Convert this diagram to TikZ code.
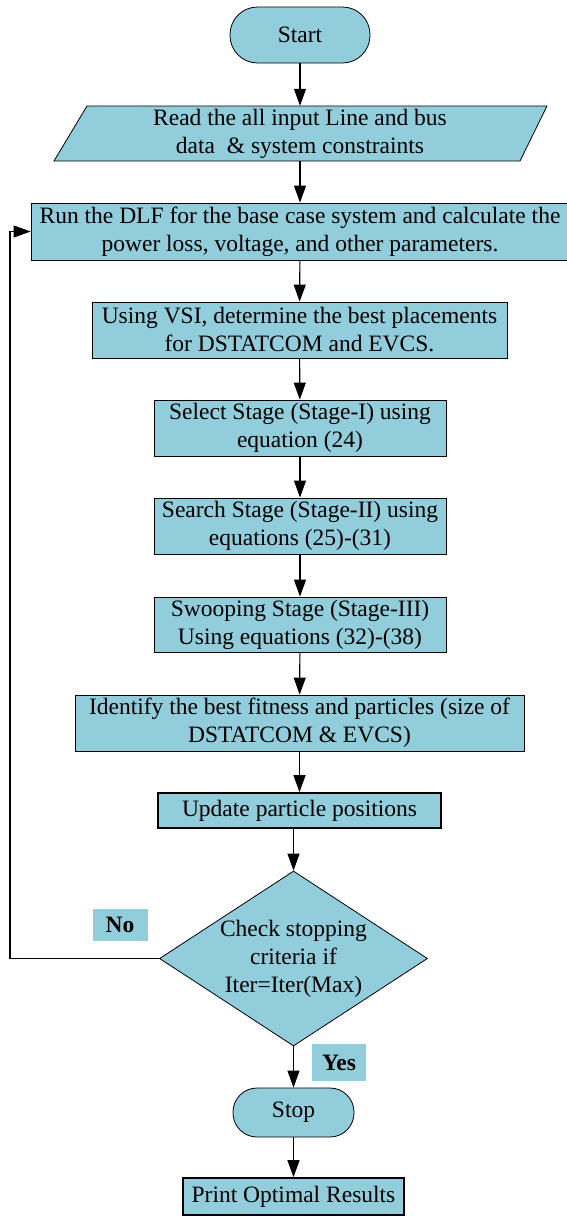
\documentclass[tikz,border=0pt]{standalone}
\usepackage{fontspec}
\setmainfont{Liberation Serif}
\usetikzlibrary{shapes.geometric,arrows.meta,backgrounds}
\definecolor{boxblue}{HTML}{92CDDC}
\begin{document}
\begin{tikzpicture}[x=1pt,y=-1pt,
  every node/.style={font=\fontsize{23.5}{28}\selectfont, align=center, inner sep=0pt},
  proc/.style={rectangle, draw=black, line width=0.8pt, fill=boxblue},
  thickproc/.style={proc, line width=1.6pt},
  term/.style={rectangle, draw=black, line width=0.8pt, fill=boxblue},
  lbl/.style={rectangle, fill=boxblue, font=\fontsize{23.5}{28}\selectfont\bfseries},
  arr/.style={-{Triangle[length=17pt,width=12pt]}, line width=1.1pt},
]
\useasboundingbox (0,0) rectangle (567,1216);

\node[term, minimum width=140, minimum height=56, rounded corners=27.5] (start) at (300,35) {Start};

\node[minimum height=55] (read) at (300,133.5) {Read the all input Line and bus\\data~~\& system constraints};
\begin{scope}[on background layer]
  \draw[proc] (87,106) -- (547,106) -- (520,161) -- (54,161) -- cycle;
\end{scope}

\node[proc, minimum width=538, minimum height=57] (run) at (300,231.5)
  {Run the DLF for the base case system and calculate the\\power loss, voltage, and other parameters.};

\node[proc, minimum width=415, minimum height=56] (vsi) at (299.5,330)
  {Using VSI, determine the best placements\\for DSTATCOM and EVCS.};

\node[proc, minimum width=292, minimum height=56] (select) at (300,428)
  {Select Stage (Stage-I) using\\equation (24)};

\node[proc, minimum width=292, minimum height=56] (search) at (300,526)
  {Search Stage (Stage-II) using\\equations (25)-(31)};

\node[proc, minimum width=292, minimum height=55] (swoop) at (300,624.5)
  {Swooping Stage (Stage-III)\\Using equations (32)-(38)};

\node[proc, minimum width=449, minimum height=56] (ident) at (299.5,723)
  {Identify the best fitness and particles (size of\\DSTATCOM \& EVCS)};

\node[thickproc, minimum width=283, minimum height=35] (update) at (299.5,810.5)
  {Update particle positions};

\node[diamond, draw=black, line width=0.8pt, fill=boxblue, aspect=1.53,
      minimum width=268, minimum height=175] (check) at (293.5,958.5) {};
\node (checktext) at (check) {Check stopping\\criteria if\\Iter=Iter(Max)};

\node[lbl, minimum width=55, minimum height=32] (no) at (120,925) {No};
\node[lbl, minimum width=54, minimum height=37] (yes) at (339,1062.5) {Yes};

\node[term, minimum width=121, minimum height=49, rounded corners=24] (stop) at (293.5,1112.5) {Stop};

\node[thickproc, minimum width=221, minimum height=37] (print) at (293.5,1196.5)
  {Print Optimal Results};

\coordinate (loopx) at (10,0);

\draw[arr] (start) -- (read);
\draw[arr] (read) -- (run);
\draw[arr] (run) -- (vsi);
\draw[arr] (vsi) -- (select);
\draw[arr] (select) -- (search);
\draw[arr] (search) -- (swoop);
\draw[arr] (swoop) -- (ident);
\draw[arr] (ident) -- (update);
\draw[arr] (check.north |- update.south) -- (check.north);
\draw[arr] (check.south) -- (stop.north);
\draw[arr] (stop) -- (print);
\draw[arr] (check.west) -- (check.west -| loopx) |- (run.west);
\end{tikzpicture}
\end{document}
